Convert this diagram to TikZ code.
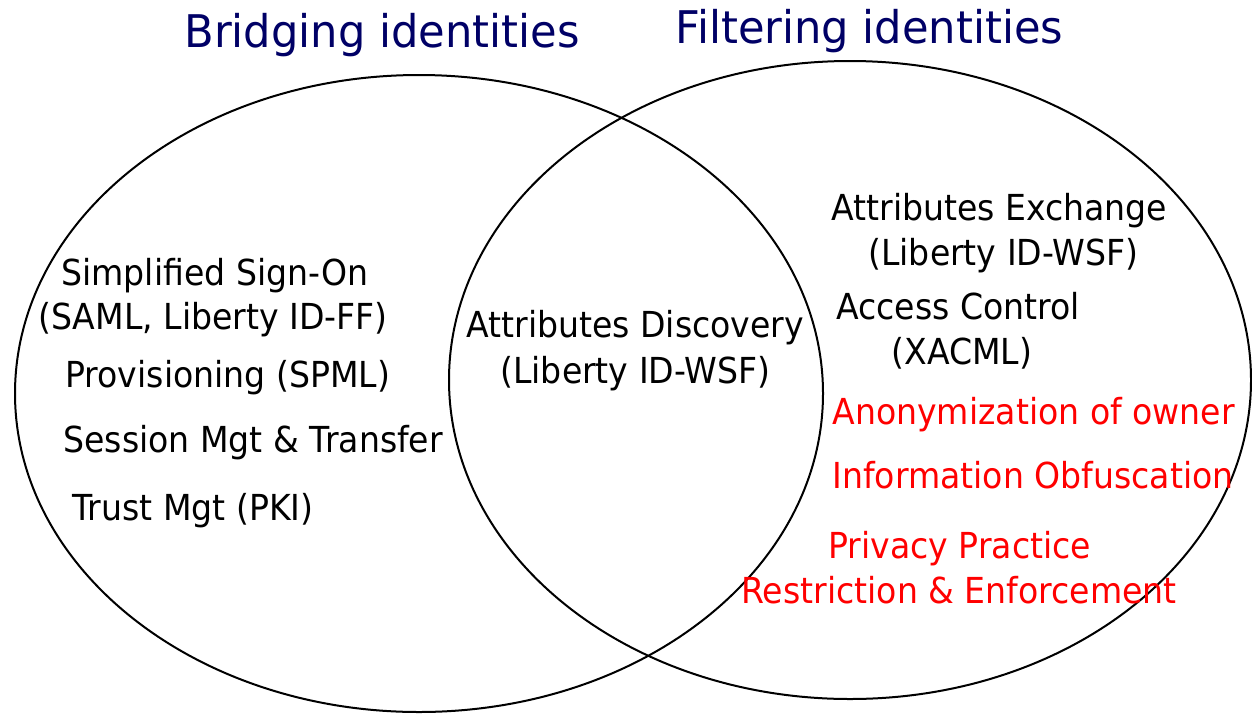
\documentclass[tikz,border=0pt]{standalone}
\usepackage{fontspec}
\setmainfont{DejaVu Sans}[FakeStretch=0.925]
\newfontfamily\titlefont{DejaVu Sans}[FakeStretch=0.96]
\usetikzlibrary{positioning}
\definecolor{titleblue}{RGB}{0,0,102}

\begin{document}
\begin{tikzpicture}[
    x=0.5pt, y=-0.5pt,
    set/.style={draw=black, line width=1pt}, % outline of each identity set
    heading/.style={anchor=base west, inner sep=0pt, text=titleblue,
        font=\titlefont\fontsize{22.5}{27}\selectfont}, % set titles
    item/.style={anchor=base west, inner sep=0pt,
        font=\fontsize{17.9}{21}\selectfont}, % black entries
    privacy/.style={item, text=red} % red privacy entries
]
    \useasboundingbox (0,0) rectangle (1252,713);

    % === Sets ===
    \draw[set] (419,393.5) ellipse (404 and 318.5);
    \draw[set] (850,380) ellipse (401 and 319);

    % === Titles ===
    \node[heading] (bridging) at (184,47) {Bridging identities};
    \node[heading] (filtering) at (675,43) {Filtering identities};

    % === Bridging only ===
    \node[item] (sso) at (61,285) {Simplified Sign-On};
    \node[item] (ssoStd) at (38,329) {(SAML, Liberty ID-FF)};
    \node[item] (prov) at (65,387) {Provisioning (SPML)};
    \node[item] (session) at (63,452) {Session Mgt \& Transfer};
    \node[item] (trust) at (72,520) {Trust Mgt (PKI)};

    % === Shared ===
    \node[item] (disc) at (466,337) {Attributes Discovery};
    \node[item] (discStd) at (500,383) {(Liberty ID-WSF)};

    % === Filtering only ===
    \node[item] (exch) at (831,220) {Attributes Exchange};
    \node[item] (exchStd) at (868,265) {(Liberty ID-WSF)};
    \node[item] (access) at (836,319) {Access Control};
    \node[item] (accessStd) at (891,364) {(XACML)};
    \node[privacy] (anon) at (832,424) {Anonymization of owner};
    \node[privacy] (obfus) at (832,488) {Information Obfuscation};
    \node[privacy] (practice) at (828,558) {Privacy Practice};
    \node[privacy] (enforce) at (741,603) {Restriction \& Enforcement};

\end{tikzpicture}
\end{document}
